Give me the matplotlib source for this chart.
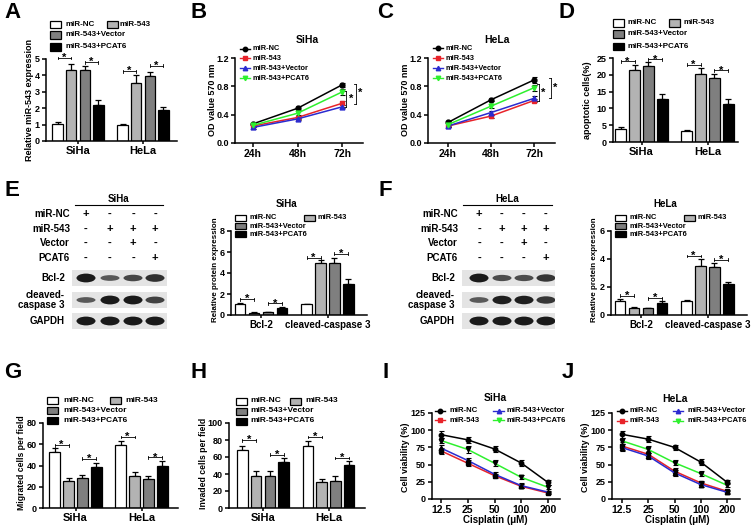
import numpy as np
import matplotlib
matplotlib.use('Agg')
from matplotlib import pyplot as plt
from matplotlib.lines import Line2D
from matplotlib.patches import Rectangle, Ellipse

plt.rcParams['font.family'] = ['Liberation Sans', 'DejaVu Sans']
plt.rcParams['font.weight'] = 'bold'
plt.rcParams['axes.labelweight'] = 'bold'

W, H = 753, 527

groupNames = ['miR-NC', 'miR-543', 'miR-543+Vector', 'miR-543+PCAT6']
barColors = ['white', '#b3b3b3', '#7f7f7f', 'black']
lineColors = ['black', '#e8232a', '#2b2bd0', '#2ef02e']
lineMarkers = ['o', 's', '^', 'v']
cellLines = ['SiHa', 'HeLa']
proteins = ['Bcl-2', 'cleaved-caspase 3']

# A: relative miR-543 expression
mirExpr = [[1.03, 4.3, 4.3, 2.19], [1.0, 3.55, 3.98, 1.9]]
mirErr = [[0.1, 0.4, 0.28, 0.33], [0.06, 0.45, 0.25, 0.15]]
mirSig = [(0, 0, 1, 5.05), (0, 2, 3, 4.8), (1, 0, 1, 4.25), (1, 2, 3, 4.6)]

# B, C: OD 570 nm (24h, 48h, 72h)
timeLabels = ['24h', '48h', '72h']
odSiHa = [[0.27, 0.49, 0.82], [0.24, 0.36, 0.56], [0.22, 0.34, 0.51], [0.25, 0.42, 0.72]]
odSiHaErr = [[0.02, 0.03, 0.03], [0.02, 0.02, 0.03], [0.02, 0.02, 0.02], [0.02, 0.03, 0.04]]
odHeLa = [[0.29, 0.61, 0.89], [0.24, 0.38, 0.6], [0.24, 0.43, 0.63], [0.26, 0.52, 0.78]]
odHeLaErr = [[0.02, 0.02, 0.04], [0.02, 0.02, 0.02], [0.02, 0.02, 0.03], [0.02, 0.03, 0.04]]

# D: apoptotic cells (%)
apop = [[4.0, 21.3, 22.6, 12.7], [3.3, 20.2, 18.9, 11.4]]
apopErr = [[0.5, 1.6, 1.1, 1.5], [0.4, 1.7, 1.2, 1.3]]
apopSig = [(0, 0, 1, 24.0), (0, 2, 3, 24.6), (1, 0, 1, 23.0), (1, 2, 3, 21.3)]

# E, F: western blot band strength (lanes 1-4) and quantification
blotSiHa = [[1.0, 0.45, 0.6, 0.8], [0.45, 1.0, 1.0, 0.65], [1.0, 1.0, 1.0, 1.0]]
blotHeLa = [[1.0, 0.55, 0.55, 0.75], [0.45, 0.95, 0.95, 0.75], [1.0, 1.0, 1.0, 1.0]]
blotRows = ['miR-NC', 'miR-543', 'Vector', 'PCAT6']
blotSigns = [['+', '-', '-', '-'], ['-', '+', '+', '+'], ['-', '-', '+', '-'], ['-', '-', '-', '+']]
protSiHa = [[1.04, 0.22, 0.25, 0.63], [1.03, 4.97, 4.97, 3.0]]
protSiHaErr = [[0.14, 0.03, 0.03, 0.09], [0.06, 0.25, 0.5, 0.42]]
protSiHaSig = [(0, 0, 1, 1.5), (0, 2, 3, 1.1), (1, 0, 1, 5.47), (1, 2, 3, 5.85)]
protHeLa = [[1.02, 0.52, 0.47, 0.88], [1.0, 3.48, 3.4, 2.2]]
protHeLaErr = [[0.12, 0.03, 0.03, 0.09], [0.04, 0.5, 0.28, 0.17]]
protHeLaSig = [(0, 0, 1, 1.38), (0, 2, 3, 1.19), (1, 0, 1, 4.2), (1, 2, 3, 3.96)]

# G, H: migration / invasion
migrated = [[52.4, 25.7, 28.0, 38.6], [58.9, 30.5, 27.3, 39.8]]
migratedErr = [[4.0, 3.0, 3.2, 3.8], [4.6, 3.2, 3.0, 4.0]]
migratedSig = [(0, 0, 1, 59.0), (0, 2, 3, 46.5), (1, 0, 1, 66.8), (1, 2, 3, 47.6)]
invaded = [[68.5, 38.0, 38.0, 54.0], [73.2, 30.6, 32.0, 51.0]]
invadedErr = [[4.8, 5.0, 5.0, 4.6], [6.0, 3.5, 6.0, 3.9]]
invadedSig = [(0, 0, 1, 79.6), (0, 2, 3, 62.7), (1, 0, 1, 83.5), (1, 2, 3, 58.8)]

# I, J: cell viability vs cisplatin
doses = [12.5, 25, 50, 100, 200]
viaSiHa = [[93.5, 86, 72.7, 52.3, 24], [70, 52, 34, 18.4, 8.7], [74, 56, 36, 19.4, 10], [85, 72, 52, 31.5, 17]]
viaSiHaErr = [[5, 4, 4, 5, 3], [4, 4, 3, 3, 2], [5, 4, 3, 4, 2], [4, 5, 4, 3, 3]]
viaHeLa = [[94, 87, 75, 53.7, 24.4], [77, 65, 40.5, 23.4, 11.2], [74.7, 62.5, 38, 21, 9.8], [84.5, 72, 52.7, 37, 20]]
viaHeLaErr = [[5, 4, 4, 4, 3], [6, 5, 4, 3, 2], [5, 5, 4, 3, 2], [4, 5, 4, 3, 3]]

fig = plt.figure(figsize=(W / 100, H / 100), dpi=100)


def pxAxes(x0, y0, x1, y1):
    return fig.add_axes([x0 / W, 1 - y1 / H, (x1 - x0) / W, (y1 - y0) / H])


def figText(x, y, s, **kw):
    return fig.text(x / W, 1 - y / H, s, **kw)


def styleAxes(ax, tickSize=6.5):
    ax.spines['top'].set_visible(False)
    ax.spines['right'].set_visible(False)
    ax.spines['left'].set_linewidth(1.1)
    ax.spines['bottom'].set_linewidth(1.1)
    ax.tick_params(direction='out', length=3, width=1.1, labelsize=tickSize, pad=1.5)


def hBracket(ax, x1, x2, y, h):
    ax.plot([x1, x2], [y, y], color='black', lw=0.6, clip_on=False)
    ax.plot([x1, x1], [y - h, y + h], color='black', lw=0.6, clip_on=False)
    ax.plot([x2, x2], [y - h, y + h], color='black', lw=0.6, clip_on=False)
    ax.text((x1 + x2) / 2, y, '*', ha='center', va='center', fontsize=8, clip_on=False)


def vBracket(ax, x, y1, y2, sx, sy, h=0.05):
    ax.plot([x, x], [y1, y2], color='black', lw=0.6, clip_on=False)
    ax.plot([x - h, x], [y1, y1], color='black', lw=0.6, clip_on=False)
    ax.plot([x - h, x], [y2, y2], color='black', lw=0.6, clip_on=False)
    ax.text(sx, sy, '*', ha='center', va='center', fontsize=8, clip_on=False)


barOffsets = [-0.315, -0.105, 0.105, 0.315]
barWidth = 0.16


def barPanel(box, c0, pitch, ymax, ystep, values, errs, sigs, labels, xSize=8):
    ax = pxAxes(*box)
    for k in range(4):
        xs = [g + barOffsets[k] for g in range(len(values))]
        vals = [v[k] for v in values]
        es = [e[k] for e in errs]
        ax.bar(xs, vals, barWidth, color=barColors[k], edgecolor='black', linewidth=0.9, zorder=2)
        ax.errorbar(xs, vals, yerr=[np.zeros(len(es)), es], fmt='none', ecolor='black',
                    elinewidth=0.9, capsize=2.2, capthick=0.9, zorder=1)
    ax.set_xlim((box[0] - c0) / pitch, (box[2] - c0) / pitch)
    ax.set_ylim(0, ymax)
    ax.set_yticks(np.arange(0, ymax + ystep / 2, ystep))
    ax.set_xticks(range(len(labels)))
    ax.set_xticklabels(labels)
    styleAxes(ax)
    ax.tick_params(axis='x', labelsize=xSize, length=2)
    for g, i, j, y in sigs:
        hBracket(ax, g + barOffsets[i], g + barOffsets[j], y, ymax * 0.015)
    return ax


def barLegend(x0, x1, tx0, tx1, ys, size=5.8, sq=(11, 7)):
    spots = [(x0, tx0, ys[0]), (x1, tx1, ys[0]), (x0, tx0, ys[1]), (x0, tx0, ys[2])]
    for k, (sx, tx, y) in enumerate(spots):
        fig.add_artist(Rectangle((sx / W, 1 - (y + sq[1] / 2) / H), sq[0] / W, sq[1] / H,
                                 transform=fig.transFigure, facecolor=barColors[k],
                                 edgecolor='black', linewidth=0.9))
        figText(tx, y, groupNames[k], fontsize=size, va='center', ha='left')


def lineLegendItem(x0, x1, tx, y, k, size=5.6):
    yy = 1 - y / H
    fig.add_artist(Line2D([x0 / W, (x0 + x1) / 2 / W, x1 / W], [yy, yy, yy], color=lineColors[k],
                          lw=1, marker=lineMarkers[k], markevery=[1], ms=3.2,
                          markeredgecolor=lineColors[k], transform=fig.transFigure))
    figText(tx, y, groupNames[k], fontsize=size, va='center', ha='left')


def timePanel(box, x24, step, values, errs, title, titlePos, legX, legYs, brackets):
    ax = pxAxes(*box)
    for k in range(4):
        ax.errorbar(range(3), values[k], yerr=errs[k], color=lineColors[k], marker=lineMarkers[k],
                    ms=3.5, lw=1.1, ecolor='black', elinewidth=0.8, capsize=1.8, capthick=0.8)
    ax.set_xlim((box[0] - x24) / step, (box[2] - x24) / step)
    ax.set_ylim(0, 1.2)
    ax.set_yticks([0.0, 0.4, 0.8, 1.2])
    ax.set_yticklabels(['0.0', '0.4', '0.8', '1.2'])
    ax.set_xticks(range(3))
    ax.set_xticklabels(timeLabels)
    styleAxes(ax)
    ax.tick_params(axis='x', labelsize=7.5)
    figText(titlePos[0], titlePos[1], title, fontsize=7.5, ha='center', va='center')
    for k in range(4):
        lineLegendItem(legX[0], legX[1], legX[2], legYs[k], k, size=5.3)
    for b in brackets:
        vBracket(ax, *b)
    return ax


def viabilityPanel(box, x12, step, values, errs, title, titlePos, legCols, legYs):
    ax = pxAxes(*box)
    for k in range(4):
        ax.errorbar(doses, values[k], yerr=errs[k], color=lineColors[k], marker=lineMarkers[k],
                    ms=3.2, lw=1.1, mfc='black', mec='black', ecolor='black',
                    elinewidth=0.8, capsize=1.8, capthick=0.8)
    ax.set_xscale('log', base=2)
    ax.set_xlim(12.5 * 2 ** ((box[0] - x12) / step), 12.5 * 2 ** ((box[2] - x12) / step))
    ax.set_ylim(0, 125)
    ax.set_yticks([0, 25, 50, 75, 100, 125])
    ax.set_xticks(doses)
    ax.set_xticklabels(['12.5', '25', '50', '100', '200'])
    ax.minorticks_off()
    styleAxes(ax)
    ax.tick_params(axis='x', labelsize=7.5)
    figText(titlePos[0], titlePos[1], title, fontsize=7.5, ha='center', va='center')
    order = [(0, 0, 0), (1, 0, 1), (2, 1, 0), (3, 1, 1)]
    for k, col, row in order:
        c = legCols[col]
        lineLegendItem(c[0], c[1], c[2], legYs[row], k)
    return ax


def blotPanel(x0, x1, lanes, tableRight, labelRight, header, headerSpan, bands):
    # condition table
    figText((headerSpan[0] + headerSpan[1]) / 2, 199, header, fontsize=7, ha='center', va='center')
    fig.add_artist(Line2D([headerSpan[0] / W, headerSpan[1] / W], [1 - 205 / H, 1 - 205 / H],
                          color='black', lw=0.8, transform=fig.transFigure))
    rowYs = [214, 229, 243, 258]
    for r, name in enumerate(blotRows):
        figText(tableRight, rowYs[r], name, fontsize=7, ha='right', va='center')
        for c, lx in enumerate(lanes):
            figText(lx, rowYs[r], blotSigns[r][c], fontsize=8, ha='center', va='center')
    # blot strips
    strips = [(270, 286), (292, 308), (313, 329)]
    names = ['Bcl-2', 'cleaved-\ncaspase 3', 'GAPDH']
    for s, (ya, yb) in enumerate(strips):
        ax = pxAxes(x0, ya, x1, yb)
        ax.set_xlim(x0, x1)
        ax.set_ylim(0, 1)
        ax.set_facecolor('#e4e4e4')
        for c, lx in enumerate(lanes):
            strength = bands[s][c]
            ax.add_patch(Ellipse((lx, 0.5), 19, 0.2 + 0.35 * strength,
                                 color=str(0.55 - 0.45 * strength), lw=0))
        ax.set_xticks([])
        ax.set_yticks([])
        for sp in ax.spines.values():
            sp.set_visible(False)
        figText(labelRight, (ya + yb) / 2, names[s], fontsize=7, ha='right', va='center',
                linespacing=1.1)


# panel letters
for letter, (lx, ly) in zip('ABCDEFGHIJ', [(4, 13), (191, 13), (377, 13), (558, 13), (4, 190),
                                           (378, 190), (4, 372), (190, 372), (382, 372), (562, 372)]):
    figText(lx, ly, letter, fontsize=16, ha='left', va='center')

# A
barPanel((46, 59, 177, 141), 78, 65, 5, 1, mirExpr, mirErr, mirSig, cellLines)
barLegend(50, 107, 65, 120, [24, 35, 47])
figText(29, 100, 'Relative miR-543 expression', fontsize=6.5, rotation=90, ha='center', va='center')

# B
timePanel((235, 58, 363, 143), 253, 44.5, odSiHa, odSiHaErr, 'SiHa', (307, 40),
          (240, 250, 253), [49, 58, 68, 78],
          [(2.1, 0.51, 0.73, 2.2, 0.62), (2.31, 0.55, 0.83, 2.4, 0.71)])
figText(212, 100, 'OD value 570 nm', fontsize=6.5, rotation=90, ha='center', va='center')

# C
timePanel((428, 58, 555, 143), 448, 43, odHeLa, odHeLaErr, 'HeLa', (497, 40),
          (433, 443, 446), [48, 58, 68, 78],
          [(2.12, 0.6, 0.83, 2.22, 0.71), (2.4, 0.63, 0.92, 2.5, 0.78)])
figText(405, 100, 'OD value 570 nm', fontsize=6.5, rotation=90, ha='center', va='center')

# D
barPanel((613, 58, 738, 142), 641.5, 66, 25, 5, apop, apopErr, apopSig, cellLines)
barLegend(613, 669, 628, 683, [23, 34, 46])
figText(588, 100, 'apoptotic cells(%)', fontsize=6.5, rotation=90, ha='center', va='center')

# E
blotPanel(72, 167, [86, 110, 133, 155], 70, 65, 'SiHa', (75, 163), blotSiHa)
barPanel((231, 231, 367, 315), 261, 66.5, 8, 2, protSiHa, protSiHaErr, protSiHaSig, proteins, xSize=7)
figText(286, 204, 'SiHa', fontsize=7, ha='center', va='center')
barLegend(235, 304, 250, 318, [218, 226, 234], size=5.4, sq=(11, 6))
figText(215, 270, 'Relative protein expression', fontsize=5.8, rotation=90, ha='center', va='center')

# F
blotPanel(462, 555, [479, 502, 524, 546], 458, 455, 'HeLa', (463, 552), blotHeLa)
barPanel((611, 231, 747, 315), 641, 66.5, 6, 2, protHeLa, protHeLaErr, protHeLaSig, proteins, xSize=7)
figText(665, 204, 'HeLa', fontsize=7, ha='center', va='center')
barLegend(615, 684, 630, 698, [218, 226, 234], size=5.4, sq=(11, 6))
figText(595, 270, 'Relative protein expression', fontsize=5.8, rotation=90, ha='center', va='center')

# G
barPanel((43, 423, 178, 508), 75.5, 66, 80, 20, migrated, migratedErr, migratedSig, cellLines)
barLegend(47, 110, 63, 125, [400, 410, 420], size=6.0)
figText(22, 463, 'Migrated cells per field', fontsize=6.2, rotation=90, ha='center', va='center')

# H
barPanel((229, 423, 365, 508), 263, 65.5, 100, 20, invaded, invadedErr, invadedSig, cellLines)
barLegend(236, 290, 250, 305, [401, 411, 421], size=6.0)
figText(203, 463, 'Invaded cells per field', fontsize=6.2, rotation=90, ha='center', va='center')

# I
viabilityPanel((432, 413, 560, 499), 441, 26.75, viaSiHa, viaSiHaErr, 'SiHa', (495, 398),
               [(435, 445, 450), (493, 504, 507)], [411, 420])
figText(406, 457, 'Cell viability (%)', fontsize=6.5, rotation=90, ha='center', va='center')
figText(495, 520, 'Cisplatin (μM)', fontsize=7, ha='center', va='center')

# J
viabilityPanel((612, 413, 740, 499), 622, 26.25, viaHeLa, viaHeLaErr, 'HeLa', (675, 399),
               [(617, 627, 630), (673, 683, 687)], [411, 421])
figText(586, 457, 'Cell viability (%)', fontsize=6.5, rotation=90, ha='center', va='center')
figText(677, 520, 'Cisplatin (μM)', fontsize=7, ha='center', va='center')

fig.savefig('out.png', dpi=100)
